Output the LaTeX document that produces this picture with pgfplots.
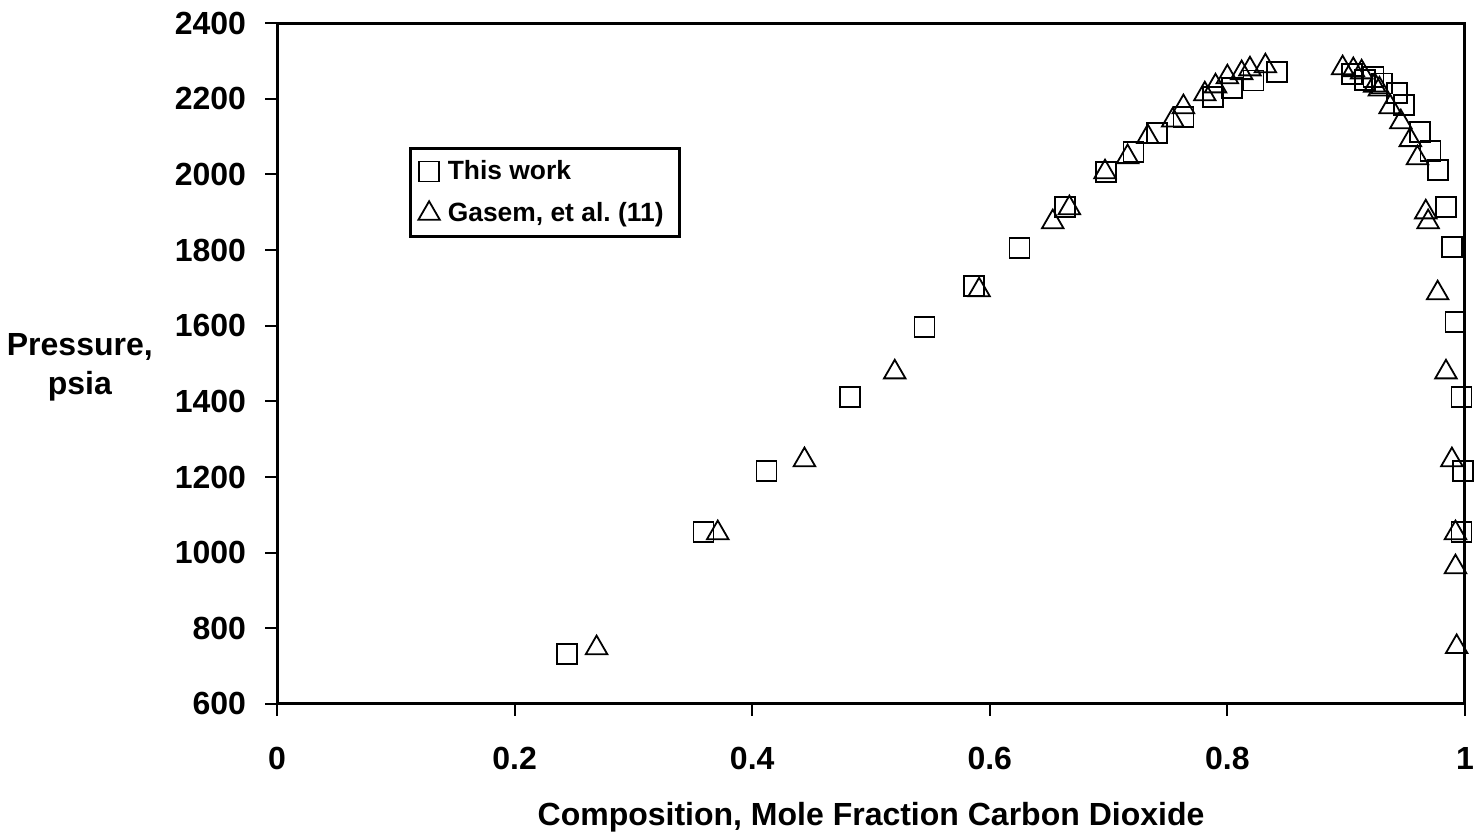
\documentclass[border=0pt]{standalone}
\usepackage{pgfplots}
\pgfplotsset{compat=1.18}
\usepackage{fontspec}
\setmainfont{Liberation Sans}
\frenchspacing
\newcommand{\chf}{\fontsize{16}{19.5}\selectfont\bfseries}
\newcommand{\lgf}{\fontsize{13.2}{16}\selectfont\bfseries}
\begin{document}
\begin{tikzpicture}
\begin{axis}[
  scale only axis,
  width=594pt, height=340.5pt,
  xmin=0, xmax=1, ymin=600, ymax=2400,
  xtick={0,0.2,0.4,0.6,0.8,1},
  ytick={600,800,1000,1200,1400,1600,1800,2000,2200,2400},
  xtick pos=left, ytick pos=left,
  tick align=outside,
  major tick length=6pt,
  axis line style={line width=1.5pt},
  every tick/.style={line width=1pt, black},
  /pgf/number format/assume math mode=true,
  /pgf/number format/1000 sep={},
  tick label style={font=\chf},
  xticklabel style={yshift=-12pt},
  yticklabel style={xshift=-6pt},
  xlabel={Composition, Mole Fraction Carbon Dioxide},
  ylabel={Pressure,\\psia},
  every axis x label/.style={at={(axis description cs:0.5,-0.167)},anchor=center,font=\chf},
  every axis y label/.style={at={(axis description cs:-0.166,0.495)},anchor=center,align=center,rotate=0,font=\chf},
  clip=false,
  legend style={at={(axis description cs:0.111,0.818)}, anchor=north west,
    draw=black, line width=1.5pt, font=\lgf, row sep=6pt, inner sep=4pt,
    legend cell align=left, nodes={inner xsep=4pt}},
  legend image code/.code={\draw[line width=0.8pt,#1] plot coordinates {(0.15cm,0cm)};},
]
\addplot[only marks, mark=square, mark size=5pt, mark options={line width=0.9pt, black}] coordinates {
(0.244,732) (0.359,1055) (0.412,1216) (0.482,1411) (0.545,1596) (0.587,1705)
(0.625,1805) (0.663,1914) (0.698,2006) (0.721,2059) (0.741,2109) (0.763,2152)
(0.788,2204) (0.804,2228) (0.822,2248) (0.842,2270)
(0.905,2265) (0.916,2250) (0.923,2258) (0.930,2240) (0.943,2215) (0.949,2183)
(0.962,2112) (0.971,2062) (0.977,2012) (0.984,1914) (0.989,1808) (0.992,1610)
(0.997,1411) (0.998,1216) (0.997,1055)
};
\addlegendentry{This work}
\addplot[only marks, mark=triangle, mark size=6.2pt, mark options={line width=0.9pt, black}] coordinates {
(0.269,748) (0.371,1052) (0.444,1245) (0.520,1477) (0.591,1694) (0.653,1874)
(0.667,1911) (0.697,2006) (0.716,2046) (0.733,2099) (0.754,2143) (0.763,2178)
(0.781,2212) (0.790,2233) (0.800,2257) (0.812,2268) (0.819,2278) (0.832,2286)
(0.897,2281) (0.906,2276) (0.913,2270) (0.924,2235) (0.928,2225) (0.937,2178)
(0.946,2138) (0.954,2091) (0.960,2043) (0.967,1900) (0.969,1874) (0.977,1686)
(0.984,1477) (0.989,1245) (0.992,1052) (0.992,962) (0.993,751)
};
\addlegendentry{Gasem, et al. (11)}
\coordinate (bl) at (rel axis cs:-0.2332,-0.1968);
\coordinate (tr) at (rel axis cs:1.0093,1.0338);
\end{axis}
\pgfresetboundingbox
\path[use as bounding box] (bl) rectangle (tr);
\end{tikzpicture}
\end{document}
